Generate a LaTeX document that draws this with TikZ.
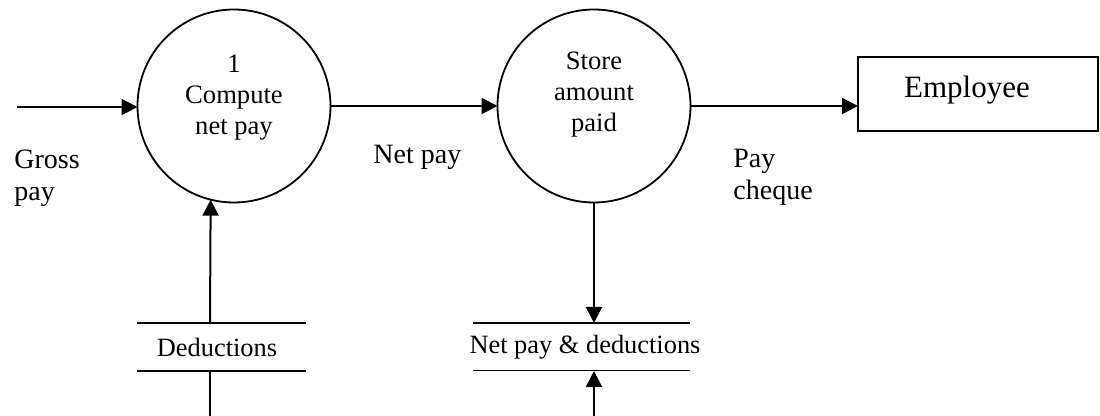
\documentclass[tikz,border=0pt]{standalone}
\usepackage{fontspec}
\setmainfont{Liberation Serif}
\usetikzlibrary{arrows.meta}
\begin{document}
\begin{tikzpicture}[x=0.5pt,y=-0.5pt,
  flow/.style={line width=1pt,-{Triangle[length=8pt,width=8pt]}},
  proc/.style={circle,draw,line width=0.9pt,minimum size=96.5pt,inner sep=0pt,outer sep=0pt},
  ext/.style={rectangle,draw,line width=1.2pt,minimum width=120pt,minimum height=37pt,inner sep=0pt,outer sep=0pt},
  store/.style={rectangle,minimum height=24pt,inner sep=0pt,outer sep=0pt},
  ptext/.style={font=\fontsize{13.3pt}{15.5pt}\selectfont,align=center},
  flabel/.style={font=\fontsize{14pt}{16pt}\selectfont,align=left,anchor=north west,inner sep=0pt},
  stext/.style={font=\fontsize{13.2pt}{15pt}\selectfont}]
\useasboundingbox (0,0) rectangle (1100,416);
% processes
\node[proc] (p1) at (234,106) {};
\node[ptext] (t1) at (234,98) {1\\Compute\\net pay};
\node[proc] (p2) at (594,106) {};
\node[ptext] (t2) at (594,95) {Store\\amount\\paid};
% external entity
\node[ext] (emp) at (978,94) {};
\node[font=\fontsize{15.5pt}{17pt}\selectfont] (tEmp) at (967,90) {Employee};
% data stores
\node[store,minimum width=84.5pt] (ds1) at (221.5,347) {};
\draw[line width=1pt] (ds1.north west) -- (ds1.north east);
\draw[line width=1pt] (ds1.south west) -- (ds1.south east);
\node[stext] (tds1) at (217,347) {Deductions};
\node[store,minimum width=108.5pt] (ds2) at (581.5,347) {};
\draw[line width=1pt] (ds2.north west) -- (ds2.north east);
\draw[line width=0.5pt] (ds2.south west) -- (ds2.south east);
\node[stext] (tds2) at (585,347) {Net pay \& deductions};
% free ends
\coordinate (src) at (17,107);
\coordinate (b1) at (210,416);
\coordinate (b2) at (594,416);
% flows
\draw[flow] (src) -- (p1.west |- src);
\draw[flow] (p1.east) -- (p2.west);
\draw[flow] (p2.east) -- (emp.west |- p2.east);
\draw[line width=1pt] (b1) -- (b1 |- ds1.south);
\draw[flow] (b1 |- ds1.north) -- (p1.256);
\draw[flow] (p2.south) -- (p2.south |- ds2.north);
\draw[flow] (b2) -- (b2 |- ds2.south);
% labels
\node[flabel] (lg) at (14,150) {Gross\\pay};
\node[flabel] (ln) at (373,145) {Net pay};
\node[flabel] (lp) at (733,149) {Pay\\cheque};
\end{tikzpicture}
\end{document}
